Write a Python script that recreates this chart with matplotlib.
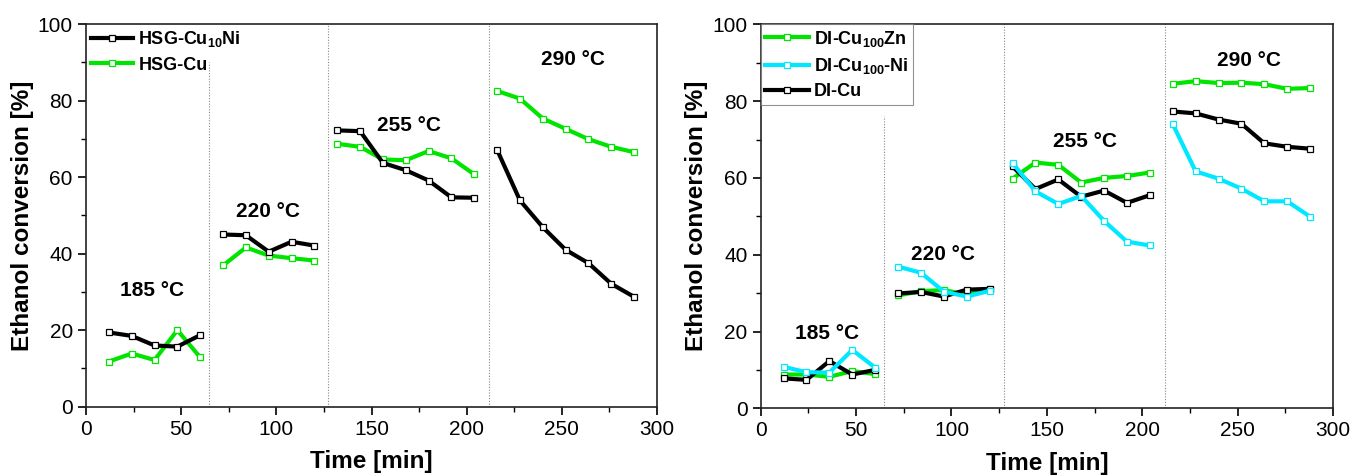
import matplotlib
matplotlib.use("Agg")
import matplotlib.pyplot as plt
from matplotlib.ticker import MultipleLocator
from matplotlib import font_manager

names = {f.name for f in font_manager.fontManager.ttflist}
TICKFONT = "Liberation Sans Narrow" if "Liberation Sans Narrow" in names else "Liberation Sans"
plt.rcParams['font.family'] = ['Liberation Sans', 'DejaVu Sans']
plt.rcParams['mathtext.fontset'] = 'custom'
plt.rcParams['mathtext.rm'] = 'Liberation Sans:bold'
plt.rcParams['mathtext.it'] = 'Liberation Sans:bold'
plt.rcParams['mathtext.bf'] = 'Liberation Sans:bold'
plt.rcParams['mathtext.default'] = 'rm'

# ---- data ----
t185 = [12, 24, 36, 48, 60]
t220 = [72, 84, 96, 108, 120]
t255 = [132, 144, 156, 168, 180, 192, 204]
t290 = [216, 228, 240, 252, 264, 276, 288]

hsg_cuni_185 = [19.4, 18.5, 16.0, 15.7, 18.7]
hsg_cuni_220 = [45.0, 44.8, 40.5, 43.1, 42.1]
hsg_cuni_255 = [72.2, 72.0, 63.7, 61.8, 59.1, 54.7, 54.6]
hsg_cuni_290 = [67.1, 53.9, 46.9, 41.0, 37.5, 32.1, 28.7]

hsg_cu_185 = [11.8, 13.9, 12.2, 20.0, 12.9]
hsg_cu_220 = [36.9, 41.6, 39.5, 38.8, 38.2]
hsg_cu_255 = [68.7, 67.9, 64.6, 64.4, 66.8, 64.9, 60.7]
hsg_cu_290 = [82.5, 80.5, 75.3, 72.6, 69.9, 67.9, 66.5]

di_cuzn_185 = [8.8, 8.8, 8.2, 9.7, 8.9]
di_cuzn_220 = [29.4, 30.5, 30.8, 29.6, 31.0]
di_cuzn_255 = [59.8, 64.0, 63.4, 58.8, 60.0, 60.5, 61.4]
di_cuzn_290 = [84.5, 85.2, 84.7, 84.8, 84.4, 83.2, 83.4]

di_cuni_185 = [10.8, 9.4, 9.3, 15.2, 10.6]
di_cuni_220 = [36.9, 35.3, 30.4, 29.1, 30.6]
di_cuni_255 = [63.9, 56.5, 53.2, 55.3, 48.8, 43.4, 42.4]
di_cuni_290 = [74.0, 61.7, 59.8, 57.2, 53.9, 53.9, 49.9]

di_cu_185 = [7.8, 7.4, 12.3, 8.8, 10.0]
di_cu_220 = [29.9, 30.3, 29.1, 30.9, 31.1]
di_cu_255 = [63.0, 57.1, 59.6, 55.1, 56.7, 53.5, 55.5]
di_cu_290 = [77.3, 76.8, 75.2, 74.1, 69.0, 68.1, 67.6]

temps = ["185 °C", "220 °C", "255 °C", "290 °C"]
left_label_pos = [(34.7, 30.3), (95.8, 51.0), (169.7, 73.4), (255.8, 90.6)]
right_label_pos = [(34.9, 19.5), (95.7, 40.1), (170.0, 69.4), (256.0, 90.6)]
dividers = [64.8, 127.3, 211.8]

GREEN = "#00e400"
CYAN = "#00e8ff"
BLACK = "#000000"

fig = plt.figure(figsize=(13.52, 4.76), dpi=100)
axL = fig.add_axes([86/1352, 69.3/476, 571/1352, 382.7/476])
axR = fig.add_axes([760.7/1352, 67.7/476, 572.3/1352, 384/476])

def segs(ax, segments, color, label, z):
    for i, (t, v) in enumerate(segments):
        ax.plot(t, v, color=color, lw=3.0, marker='s', ms=3.8, mfc='white',
                mec=color, mew=0.9, label=label if i == 0 else None, zorder=z)

segs(axL, [(t185, hsg_cuni_185), (t220, hsg_cuni_220), (t255, hsg_cuni_255), (t290, hsg_cuni_290)],
     BLACK, "HSG-Cu$_{10}$Ni", 3)
segs(axL, [(t185, hsg_cu_185), (t220, hsg_cu_220), (t255, hsg_cu_255), (t290, hsg_cu_290)],
     GREEN, "HSG-Cu", 2)

segs(axR, [(t185, di_cuzn_185), (t220, di_cuzn_220), (t255, di_cuzn_255), (t290, di_cuzn_290)],
     GREEN, "DI-Cu$_{100}$Zn", 2)
segs(axR, [(t185, di_cuni_185), (t220, di_cuni_220), (t255, di_cuni_255), (t290, di_cuni_290)],
     CYAN, "DI-Cu$_{100}$-Ni", 4)
segs(axR, [(t185, di_cu_185), (t220, di_cu_220), (t255, di_cu_255), (t290, di_cu_290)],
     BLACK, "DI-Cu", 3)

for ax, first_top, labpos in [(axL, 90, left_label_pos), (axR, 76, right_label_pos)]:
    ax.set_xlim(0, 300)
    ax.set_ylim(0, 100)
    for j, d in enumerate(dividers):
        top = first_top if j == 0 else 100
        ax.plot([d, d], [0, top], color='#888888', lw=0.8, ls=(0, (1, 1.5)), zorder=1)
    for txt, (x, y) in zip(temps, labpos):
        ax.text(x, y, txt, ha='center', va='center', fontsize=15, fontweight='bold',
                family=['Liberation Sans', 'DejaVu Sans'])
    ax.xaxis.set_major_locator(MultipleLocator(50))
    ax.xaxis.set_minor_locator(MultipleLocator(25))
    ax.yaxis.set_major_locator(MultipleLocator(20))
    ax.yaxis.set_minor_locator(MultipleLocator(10))
    ax.tick_params(which='major', direction='out', length=6, width=1.2, labelsize=15)
    ax.tick_params(which='minor', direction='out', length=3.5, width=1.0)
    for lab in ax.get_xticklabels() + ax.get_yticklabels():
        lab.set_family(TICKFONT)
    for sp in ax.spines.values():
        sp.set_linewidth(1.2)
        sp.set_color('#222222')
    ax.set_xlabel("Time [min]", fontsize=17.5, fontweight='bold', labelpad=8)
    ax.set_ylabel("Ethanol conversion [%]", fontsize=17.5, fontweight='bold', labelpad=3)

legL = axL.legend(loc='upper left', frameon=False, handlelength=2.3,
                  handletextpad=0.3, borderaxespad=0.1, borderpad=0.2, labelspacing=0.4,
                  numpoints=1, prop={'weight': 'bold', 'size': 13})
legR = axR.legend(loc='upper left', frameon=True, fancybox=False, edgecolor='#777777',
                  handlelength=2.4, handletextpad=0.3, borderaxespad=0.0, borderpad=0.25,
                  labelspacing=0.4, numpoints=1, prop={'weight': 'bold', 'size': 13})
legR.get_frame().set_linewidth(0.8)

fig.savefig("out.png", dpi=100)
